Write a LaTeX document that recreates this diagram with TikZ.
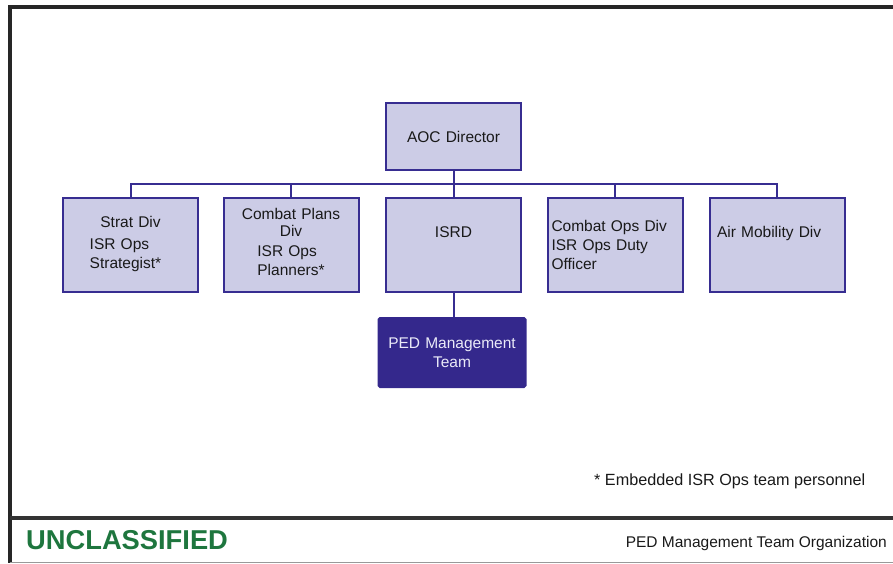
\documentclass[tikz,border=0pt]{standalone}
\usepackage{fontspec}
\setmainfont{Liberation Sans}
\usetikzlibrary{arrows}
\definecolor{divfill}{RGB}{204,204,230}
\definecolor{divline}{RGB}{55,45,145}
\definecolor{pedfill}{RGB}{52,40,140}
\definecolor{pedtext}{RGB}{234,234,248}
\definecolor{classgreen}{RGB}{30,118,62}
\tikzstyle{division} = [
  draw=divline,
  fill=divfill,
  line width=2pt,
  rectangle,
  minimum width=135pt,
  minimum height=94pt,
  inner sep=4pt,
  text width=127pt,
  align=center,
  font=\fontsize{15.5}{19}\selectfont,
  text=black!90,
]
\tikzstyle{raised} = [
  text height=11pt,
  text depth=26pt,
]
\tikzstyle{pedteam} = [
  division,
  draw=pedfill,
  fill=pedfill,
  text=pedtext,
  minimum width=147pt,
  minimum height=69pt,
  text width=139pt,
  rounded corners=1.5pt,
]
\tikzstyle{link} = [
  draw=divline,
  line width=2pt,
]
\tikzstyle{footer} = [
  inner sep=0pt,
  font=\fontsize{15.5}{19}\selectfont,
  text=black!90,
]

\begin{document}
\begin{tikzpicture}[
    x=1pt,
    y=-1pt,
  ]
  \useasboundingbox (0,0) rectangle (893,563);
  % slide frame
  \draw[line width=4pt, black!85] (893,7) -- (10,7) -- (10,563);
  \draw[line width=4pt, black!80] (10,518) -- (893,518);
  \draw[line width=1pt, black!40] (10,562) -- (893,562);

  \node[
    division,
    minimum height=67pt,
  ](aoc) at (453.5,136.5) {AOC Director};

  \node[
    division,
  ](strat) at (130.5,245) {Strat Div\\[3pt]
    \hspace*{-10pt}\begin{tabular}[t]{@{}l@{}}ISR Ops\\Strategist*\end{tabular}};
  \node[
    division,
  ](plans) at (291,245) {Combat Plans\\[-2pt]Div\\[1pt]
    \begin{tabular}[t]{@{}l@{}}ISR Ops\\Planners*\end{tabular}};
  \node[
    division,
    raised,
  ](isrd) at (453.5,245) {ISRD};
  \node[
    division,
    align=left,
  ](ops) at (615,245) {Combat Ops Div\\ISR Ops Duty\\Officer};
  \node[
    division,
    raised,
    align=left,
    inner xsep=7.5pt,
    text width=120pt,
  ](airmob) at (777,245) {Air Mobility Div};

  \node[
    pedteam,
  ](ped) at (452,352.5) {PED Management\\Team};

  \coordinate (bus) at (453.5,184);
  \draw[link] (aoc) -- (isrd);
  \draw[link] (strat.north) |- (bus) -| (airmob.north);
  \draw[link] (plans.north) -- (plans.north |- bus);
  \draw[link] (ops.north) -- (ops.north |- bus);
  \draw[link] (isrd.south) -- (isrd.south |- ped.north);

  \node[
    footer,
    anchor=base west,
    font=\fontsize{16.2}{19}\selectfont,
  ](note) at (594,485) {* Embedded ISR Ops team personnel};
  \node[
    footer,
    anchor=west,
    font=\fontsize{27.3}{30}\bfseries,
    text=classgreen,
  ](classmark) at (26,540) {UNCLASSIFIED};
  \node[
    footer,
    anchor=base east,
  ](slidetitle) at (887,547.5) {PED Management Team Organization};
\end{tikzpicture}
\end{document}
